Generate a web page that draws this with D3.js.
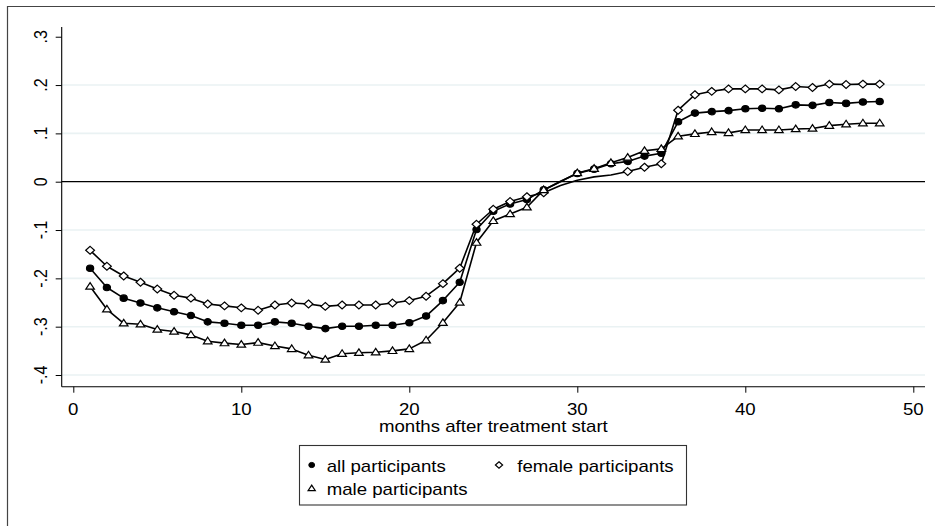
<!DOCTYPE html>
<html>
<head>
<meta charset="utf-8">
<script src="https://cdn.jsdelivr.net/npm/d3@7"></script>
<style>
  html, body { margin: 0; padding: 0; background: #fff; }
  svg { display: block; }
  text { font-family: "Liberation Sans", Arial, sans-serif; fill: #000; }
</style>
</head>
<body>
<svg id="chart" width="935" height="526"></svg>
<script>
// ---------------- DATA ----------------
const months = d3.range(1, 49);
const allParticipants = [
  -0.179, -0.219, -0.241, -0.251, -0.261, -0.269, -0.277, -0.290, -0.293, -0.297,
  -0.297, -0.290, -0.293, -0.299, -0.304, -0.299, -0.299, -0.297, -0.297, -0.292,
  -0.278, -0.246, -0.208, -0.099, -0.061, -0.046, -0.037, -0.017, 0.001, 0.017,
  0.026, 0.037, 0.042, 0.053, 0.059, 0.124, 0.142, 0.145, 0.147, 0.151,
  0.152, 0.151, 0.159, 0.158, 0.164, 0.162, 0.165, 0.166
];
const femaleParticipants = [
  -0.142, -0.175, -0.195, -0.208, -0.222, -0.235, -0.241, -0.253, -0.257, -0.261,
  -0.266, -0.255, -0.251, -0.253, -0.258, -0.255, -0.255, -0.255, -0.251, -0.246,
  -0.237, -0.211, -0.179, -0.088, -0.057, -0.041, -0.031, -0.023, -0.008, 0.003,
  0.010, 0.014, 0.021, 0.030, 0.037, 0.148, 0.180, 0.187, 0.192, 0.192,
  0.192, 0.190, 0.197, 0.195, 0.202, 0.201, 0.202, 0.202
];
const maleParticipants = [
  -0.217, -0.264, -0.293, -0.295, -0.306, -0.310, -0.317, -0.330, -0.334, -0.337,
  -0.333, -0.340, -0.346, -0.359, -0.368, -0.356, -0.354, -0.353, -0.350, -0.346,
  -0.328, -0.292, -0.250, -0.126, -0.081, -0.067, -0.053, -0.017, 0.000, 0.018,
  0.027, 0.039, 0.050, 0.064, 0.068, 0.094, 0.099, 0.103, 0.101, 0.107,
  0.107, 0.107, 0.109, 0.110, 0.116, 0.119, 0.121, 0.121
];
// months where no marker is visible on the line
const allNoMarker = [29];
const femaleNoMarker = [29, 30, 31, 32];
const maleNoMarker = [29];

const xTicks = [0, 10, 20, 30, 40, 50];
const yTicks = [0.3, 0.2, 0.1, 0, -0.1, -0.2, -0.3, -0.4];
const yTickLabels = [".3", ".2", ".1", "0", "-.1", "-.2", "-.3", "-.4"];
const yGrid = [0.2, 0.1, -0.1, -0.2, -0.3, -0.4];
const xTitle = "months after treatment start";
const legendLabels = ["all participants", "female participants", "male participants"];

// ---------------- LAYOUT ----------------
const SX = 1.165; // horizontal stretch of the original picture
const svg = d3.select("#chart");
const plotLeft = 61.7, plotRight = 925, plotTop = 27, plotBottom = 386.7;

const x = d3.scaleLinear().domain([0, 50]).range([73.3, 913.3]);
const y = d3.scaleLinear().domain([0, -0.4]).range([181.7, 375]);

function stext(parent, px, py, str, anchor, rot) {
  const g = parent.append("g")
    .attr("transform", `translate(${px},${py}) scale(${SX},1)` + (rot ? ` rotate(${rot})` : ""));
  g.append("text").attr("x", 0).attr("y", 0)
    .attr("text-anchor", anchor || "start")
    .style("font-size", "16px")
    .text(str);
  return g;
}

// outer frame (top and left visible)
svg.append("line").attr("x1", 7).attr("x2", 935).attr("y1", 6.5).attr("y2", 6.5)
  .attr("stroke", "#444").attr("stroke-width", 1.2);
svg.append("line").attr("x1", 7.5).attr("x2", 7.5).attr("y1", 6).attr("y2", 526)
  .attr("stroke", "#444").attr("stroke-width", 1.2);

// gridlines
svg.append("g").selectAll("line").data(yGrid).join("line")
  .attr("x1", plotLeft).attr("x2", plotRight)
  .attr("y1", d => y(d)).attr("y2", d => y(d))
  .attr("stroke", "#eaf2f3").attr("stroke-width", 1.6);

// zero reference line
svg.append("line").attr("x1", plotLeft).attr("x2", plotRight)
  .attr("y1", y(0)).attr("y2", y(0)).attr("stroke", "#000").attr("stroke-width", 1.3);

// axes via d3
const yAxis = d3.axisLeft(y).tickValues(yTicks).tickSize(6).tickFormat("");
const gy = svg.append("g").attr("transform", `translate(${plotLeft},0)`).call(yAxis);
gy.select(".domain").remove();
gy.selectAll(".tick line").attr("stroke", "#000").attr("stroke-width", 1);
svg.append("line").attr("x1", plotLeft).attr("x2", plotLeft)
  .attr("y1", plotTop).attr("y2", plotBottom).attr("stroke", "#000").attr("stroke-width", 1.1);

const xAxis = d3.axisBottom(x).tickValues(xTicks).tickSize(6).tickFormat("");
const gx = svg.append("g").attr("transform", `translate(0,${plotBottom})`).call(xAxis);
gx.select(".domain").remove();
gx.selectAll(".tick line").attr("stroke", "#000").attr("stroke-width", 1);
svg.append("line").attr("x1", plotLeft).attr("x2", plotRight)
  .attr("y1", plotBottom).attr("y2", plotBottom).attr("stroke", "#000").attr("stroke-width", 1.1);

// tick labels
xTicks.forEach(t => stext(svg, x(t), 415, String(t), "middle"));
yTicks.forEach((t, i) => stext(svg, 46.5, y(t), yTickLabels[i], "middle", -90));

// x title
stext(svg, (plotLeft + plotRight) / 2, 432, xTitle, "middle");

// ---------------- MARKERS ----------------
function circlePath(cx, cy, rx, ry) {
  return `M${cx - rx},${cy} a${rx},${ry} 0 1,0 ${2 * rx},0 a${rx},${ry} 0 1,0 ${-2 * rx},0 Z`;
}
function diamondPath(cx, cy, hw, hh) {
  return `M${cx},${cy - hh} L${cx + hw},${cy} L${cx},${cy + hh} L${cx - hw},${cy} Z`;
}
function trianglePath(cx, cy, hw, h) {
  return `M${cx},${cy - h * 0.6} L${cx + hw},${cy + h * 0.4} L${cx - hw},${cy + h * 0.4} Z`;
}

const series = [
  { values: allParticipants, skip: allNoMarker,
    marker: (cx, cy) => circlePath(cx, cy, 3.6, 3.2), fill: "#000" },
  { values: femaleParticipants, skip: femaleNoMarker,
    marker: (cx, cy) => diamondPath(cx, cy, 4.4, 3.9), fill: "#fff" },
  { values: maleParticipants, skip: maleNoMarker,
    marker: (cx, cy) => trianglePath(cx, cy, 4.3, 6.6), fill: "#fff" }
];

const line = d3.line().x(d => x(d.m)).y(d => y(d.v));

series.forEach(s => {
  const pts = months.map((m, i) => ({ m, v: s.values[i] }));
  const g = svg.append("g");
  g.append("path").datum(pts).attr("d", line)
    .attr("fill", "none").attr("stroke", "#000").attr("stroke-width", 1.6)
    .attr("stroke-linejoin", "round");
  g.selectAll("path.mk").data(pts.filter(p => !s.skip.includes(p.m))).join("path")
    .attr("class", "mk")
    .attr("d", p => s.marker(x(p.m), y(p.v)))
    .attr("fill", s.fill).attr("stroke", "#000").attr("stroke-width", 1.2);
});

// ---------------- LEGEND ----------------
const lg = svg.append("g");
lg.append("rect").attr("x", 299.5).attr("y", 445.5).attr("width", 387).attr("height", 59.5)
  .attr("fill", "#fff").attr("stroke", "#333").attr("stroke-width", 1.1);
lg.append("path").attr("d", circlePath(311.7, 465, 2.9, 2.6)).attr("fill", "#000").attr("stroke", "#000");
lg.append("path").attr("d", diamondPath(499, 465, 3.6, 3.2)).attr("fill", "#fff")
  .attr("stroke", "#000").attr("stroke-width", 1.2);
lg.append("path").attr("d", trianglePath(311.7, 488.5, 3.6, 5.5)).attr("fill", "#fff")
  .attr("stroke", "#000").attr("stroke-width", 1.2);
stext(lg, 326.7, 471.5, legendLabels[0], "start");
stext(lg, 517.3, 471.5, legendLabels[1], "start");
stext(lg, 326.7, 495, legendLabels[2], "start");
</script>
</body>
</html>
